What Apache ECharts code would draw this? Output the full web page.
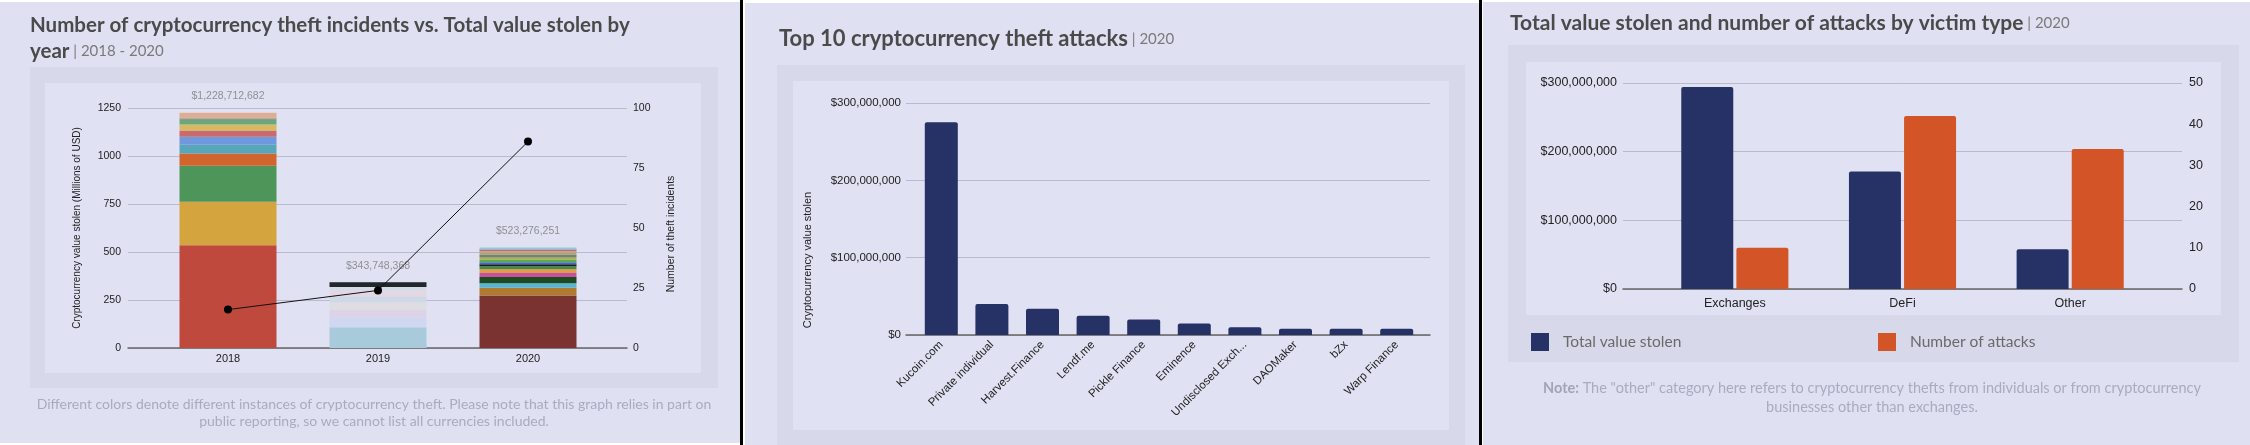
<!DOCTYPE html>
<html>
<head>
<meta charset="utf-8">
<script src="https://cdn.jsdelivr.net/npm/echarts@6/dist/echarts.min.js"></script>
<style>
    html, body { margin: 0; padding: 0; background: #fff; }
    #app { width: 2250px; height: 445px; }
</style>
</head>
<body>
<div id="app"></div>
<script>
// ---------- data ----------
// panel 1: stolen value per year, one entry per theft (millions of USD, bottom -> top)
const years = ['2018', '2019', '2020'];
const stolen2018 = [535, 227, 187, 64, 45, 42, 33, 31, 23, 8, 5, 26, 2.7];
const stolen2019 = [108, 49, 43, 38, 31, 26, 23, 21, 4.7];
const stolen2020 = [274, 40, 23, 33, 21, 19, 16, 10, 10, 14, 12, 14, 10, 10, 7, 10.3];
const yearTotals = [1228712682, 343748368, 523276251];
const incidents = [16, 24, 86];

// panel 2: top 10 attacks of 2020
const attackNames = ['Kucoin.com', 'Private individual', 'Harvest.Finance', 'Lendf.me', 'Pickle Finance',
    'Eminence', 'Undisclosed Exch...', 'DAOMaker', 'bZx', 'Warp Finance'];
const attackValues = [275e6, 40e6, 34e6, 25e6, 20e6, 15e6, 10e6, 8e6, 8e6, 8e6];

// panel 3: by victim type
const victimTypes = ['Exchanges', 'DeFi', 'Other'];
const victimValue = [294e6, 171e6, 58e6];
const victimAttacks = [10, 42, 34];

// ---------- colours ----------
const colors2018 = ['#c0493e', '#d4a53f', '#4e955a', '#d0662d', '#57a6b9', '#6f98df', '#c96b6b',
    '#d9b862', '#6ba77b', '#7e9f9e', '#d88f4a', '#dcae98', '#efe2d8'];
const colors2019 = ['#a8cadb', '#d0d8f1', '#dcd3e6', '#dddde2', '#cfd8e6', '#e5d7e1', '#d6dbe8',
    '#23272a', '#3e5a52'];
const colors2020 = ['#7a3330', '#b07a31', '#5bb5d1', '#1e4a22', '#c352a0', '#e49b45', '#4a8a3c',
    '#1b1b2b', '#3b70c0', '#62a552', '#a6b242', '#718372', '#a3a377', '#c2a383', '#d14343', '#8ccae1'];
const navy = '#263266';
const orange = '#d25427';

const panelBg = '#dfe1f3';
const boxBg = '#d7d8ea';
const innerBg = '#e0e2f4';
const gridColor = '#b9bacd';
const baseColor = '#666';
const tickFont = 'Liberation Sans';
const uiFont = 'Lato';

const chart = echarts.init(document.getElementById('app'));

function money(v) {
    return '$' + Math.round(v).toLocaleString('en-US');
}

function rect(x, y, w, h, color) {
    return { type: 'rect', z: -10, shape: { x: x, y: y, width: w, height: h }, style: { fill: color }, silent: true };
}

function vtext(x, y, text, size) {
    return {
        type: 'text', x: x, y: y, rotation: Math.PI / 2, silent: true,
        style: { text: text, align: 'center', verticalAlign: 'middle', fill: '#222',
            font: size + 'px "' + tickFont + '"' }
    };
}

function titleRich(size) {
    return {
        b: { fontFamily: uiFont, fontWeight: 'bold', fontSize: size, fill: '#4a4a4a', lineHeight: 26 },
        s: { fontFamily: uiFont, fontSize: 15, fill: '#7a7a7a', lineHeight: 26 }
    };
}

// wide "frame" grid carries the gridlines/labels, narrower grid carries the bars
function frameX(grid) {
    return {
        type: 'value', gridIndex: grid, min: 0, max: 1,
        axisLine: { show: true, lineStyle: { color: baseColor, width: 1.5 } },
        axisTick: { show: false }, axisLabel: { show: false }, splitLine: { show: false }
    };
}

function hiddenY(grid, max) {
    return { type: 'value', gridIndex: grid, min: 0, max: max, show: false, splitLine: { show: false } };
}

// ---------- panel 1 stacked series ----------
const stacks = [stolen2018, stolen2019, stolen2020];
const palettes = [colors2018, colors2019, colors2020];
const layerCount = Math.max(...stacks.map(s => s.length));
const stackSeries = [];
for (let i = 0; i < layerCount; i++) {
    stackSeries.push({
        type: 'bar', xAxisIndex: 1, yAxisIndex: 2, stack: 'stolen', barWidth: 97, silent: true,
        data: stacks.map((s, j) => i < s.length ? { value: s[i], itemStyle: { color: palettes[j][i] } } : '-')
    });
}

const graphics = [
    // panels
    rect(0, 2, 740, 441, panelBg),
    rect(30, 67, 688, 321, boxBg),
    rect(45, 83, 656, 290, innerBg),
    rect(745, 3, 734, 442, panelBg),
    rect(777, 65, 688, 380, boxBg),
    rect(793, 81, 656, 349, innerBg),
    rect(1483, 2, 767, 443, panelBg),
    rect(1508, 45, 731, 317, boxBg),
    rect(1526, 62, 695, 253, innerBg),
    rect(740, 0, 3, 445, '#000'),
    rect(1479, 0, 3, 445, '#000'),
    // titles
    {
        type: 'text', x: 30, y: 12, silent: true,
        style: {
            text: '{b|Number of cryptocurrency theft incidents vs. Total value stolen by}\n{b|year}{s| | 2018 - 2020}',
            lineHeight: 26, rich: titleRich(20.5)
        }
    },
    {
        type: 'text', x: 779, y: 26, silent: true,
        style: { text: '{b|Top 10 cryptocurrency theft attacks}{s| | 2020}', rich: titleRich(22) }
    },
    {
        type: 'text', x: 1510, y: 10, silent: true,
        style: { text: '{b|Total value stolen and number of attacks by victim type}{s| | 2020}', rich: titleRich(21) }
    },
    // footnotes
    {
        type: 'text', x: 374, y: 396, silent: true,
        style: {
            text: 'Different colors denote different instances of cryptocurrency theft. Please note that this graph relies in part on\npublic reporting, so we cannot list all currencies included.',
            align: 'center', fill: '#a9abbf', font: '14px "' + uiFont + '"', lineHeight: 17
        }
    },
    {
        type: 'text', x: 1872, y: 379, silent: true,
        style: {
            text: '{n|Note:}{t| The "other" category here refers to cryptocurrency thefts from individuals or from cryptocurrency}\n{t|businesses other than exchanges.}',
            align: 'center',
            rich: {
                n: { fontFamily: uiFont, fontWeight: 'bold', fontSize: 14.5, fill: '#a2a4b8', lineHeight: 19 },
                t: { fontFamily: uiFont, fontSize: 14.5, fill: '#a9abbf', lineHeight: 19 }
            }
        }
    },
    // rotated axis titles
    vtext(77, 228, 'Cryptocurrency value stolen (Millions of USD)', 10),
    vtext(671, 234, 'Number of theft incidents', 10.5),
    vtext(808, 260, 'Cryptocurrency value stolen', 11)
];

const option = {
    backgroundColor: '#fff',
    animation: false,
    textStyle: { fontFamily: tickFont },
    graphic: graphics,
    grid: [
        { left: 128, top: 108, width: 499, height: 240 },
        { left: 153, top: 108, width: 450, height: 240 },
        { left: 906, top: 103, width: 524, height: 232 },
        { left: 916, top: 103, width: 506, height: 232 },
        { left: 1623, top: 83, width: 559, height: 206 },
        { left: 1651, top: 83, width: 503, height: 206 }
    ],
    legend: [
        {
            data: ['Total value stolen'], left: 1526, top: 328, itemWidth: 18, itemHeight: 18, icon: 'rect',
            textStyle: { fontFamily: uiFont, fontSize: 15.5, color: '#6a6a6a', padding: [0, 0, 0, 9] }
        },
        {
            data: ['Number of attacks'], left: 1873, top: 328, itemWidth: 18, itemHeight: 18, icon: 'rect',
            textStyle: { fontFamily: uiFont, fontSize: 15.5, color: '#6a6a6a', padding: [0, 0, 0, 9] }
        }
    ],
    xAxis: [
        frameX(0),
        {
            type: 'category', gridIndex: 1, data: years,
            axisLine: { show: false }, axisTick: { show: false },
            axisLabel: { color: '#222', fontSize: 11, margin: 5 }
        },
        frameX(2),
        {
            type: 'category', gridIndex: 3, data: attackNames,
            axisLine: { show: false }, axisTick: { show: false },
            axisLabel: { color: '#222', fontSize: 11.5, rotate: 45, interval: 0, margin: 8 }
        },
        frameX(4),
        {
            type: 'category', gridIndex: 5, data: victimTypes,
            axisLine: { show: false }, axisTick: { show: false },
            axisLabel: { color: '#222', fontSize: 12.5, margin: 8 }
        }
    ],
    yAxis: [
        {
            type: 'value', gridIndex: 0, min: 0, max: 1250, interval: 250,
            axisLine: { show: false }, axisTick: { show: false },
            axisLabel: { color: '#222', fontSize: 10.5, margin: 7, formatter: v => String(v) },
            splitLine: { lineStyle: { color: gridColor, width: 1 } }
        },
        {
            type: 'value', gridIndex: 0, position: 'right', min: 0, max: 100, interval: 25,
            axisLine: { show: false }, axisTick: { show: false },
            axisLabel: { color: '#222', fontSize: 10.5, margin: 6 },
            splitLine: { show: false }
        },
        hiddenY(1, 1250),
        hiddenY(1, 100),
        {
            type: 'value', gridIndex: 2, min: 0, max: 300e6, interval: 100e6,
            axisLine: { show: false }, axisTick: { show: false },
            axisLabel: { color: '#222', fontSize: 11.5, margin: 5, formatter: money },
            splitLine: { lineStyle: { color: gridColor, width: 1 } }
        },
        hiddenY(3, 300e6),
        {
            type: 'value', gridIndex: 4, min: 0, max: 300e6, interval: 100e6,
            axisLine: { show: false }, axisTick: { show: false },
            axisLabel: { color: '#222', fontSize: 12.5, margin: 6, formatter: money },
            splitLine: { lineStyle: { color: gridColor, width: 1 } }
        },
        {
            type: 'value', gridIndex: 4, position: 'right', min: 0, max: 50, interval: 10,
            axisLine: { show: false }, axisTick: { show: false },
            axisLabel: { color: '#222', fontSize: 12.5, margin: 7 },
            splitLine: { show: false }
        },
        hiddenY(5, 300e6),
        hiddenY(5, 50)
    ],
    series: stackSeries.concat([
        {
            type: 'scatter', xAxisIndex: 1, yAxisIndex: 2, symbolSize: 1, silent: true,
            itemStyle: { color: 'rgba(0,0,0,0)' },
            label: {
                show: true, position: 'top', distance: 10, color: '#7b7b7b', fontSize: 10.5,
                formatter: p => money(yearTotals[p.dataIndex])
            },
            data: yearTotals.map(v => v / 1e6)
        },
        {
            type: 'line', xAxisIndex: 1, yAxisIndex: 3, z: 5, data: incidents,
            symbol: 'circle', symbolSize: 8,
            lineStyle: { color: '#111', width: 1 },
            itemStyle: { color: '#000' }
        },
        {
            type: 'bar', xAxisIndex: 3, yAxisIndex: 5, data: attackValues, barWidth: 33,
            itemStyle: { color: navy, borderRadius: [2, 2, 0, 0] }
        },
        {
            name: 'Total value stolen', type: 'bar', xAxisIndex: 5, yAxisIndex: 8, data: victimValue,
            barWidth: 52, barGap: '6%',
            itemStyle: { color: navy, borderRadius: [2, 2, 0, 0] }
        },
        {
            name: 'Number of attacks', type: 'bar', xAxisIndex: 5, yAxisIndex: 9, data: victimAttacks,
            barWidth: 52, barGap: '6%',
            itemStyle: { color: orange, borderRadius: [2, 2, 0, 0] }
        }
    ])
};

chart.setOption(option);
</script>
</body>
</html>
